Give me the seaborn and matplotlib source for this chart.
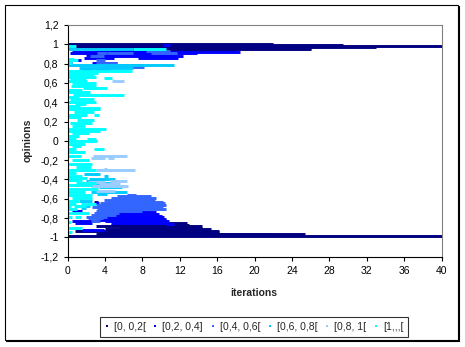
import matplotlib
matplotlib.use("Agg")
import matplotlib.pyplot as plt
from matplotlib.lines import Line2D
from matplotlib.patches import Rectangle
from matplotlib.ticker import FuncFormatter, MultipleLocator
import pandas as pd
import seaborn as sns

band_labels = ["[0, 0,2[", "[0,2, 0,4]", "[0,4, 0,6[", "[0,6, 0,8[", "[0,8, 1[", "[1,,,["]
band_colors = ["#000080", "#0000FF", "#3366FF", "#00CCFF", "#99CCFF", "#00FFFF"]

x_ticks = list(range(0, 41, 4))

# Runs of constant opinion per uncertainty band: (opinion, first iteration, last iteration)
runs_00_02 = [
    (1.00, 0, 22.0), (0.99, 0, 29.5), (0.98, 0, 40.0), (0.97, 0, 33.0),
    (0.96, 0.5, 26.0), (0.95, 3.0, 26.0), (0.94, 4.5, 18.0), (0.93, 5.0, 12.5),
    (0.915, 4.5, 8.3),
    (-0.635, 2.8, 3.3), (-0.855, 5.0, 12.8), (-0.87, 4.6, 13.0), (-0.885, 3.0, 14.4),
    (-0.90, 5.5, 14.4), (-0.917, 4.0, 15.4), (-0.93, 0.8, 16.2), (-0.945, 3.5, 16.2),
    (-0.96, 3.0, 21.9), (-0.97, 4.0, 25.4), (-0.985, 0, 40.0),
]
runs_02_04 = [
    (0.995, 10.2, 11.0), (0.92, 0.5, 18.5), (0.905, 0.3, 13.8), (0.89, 2.0, 11.6),
    (0.875, 2.3, 12.3), (0.86, 1.8, 5.0), (0.86, 7.5, 11.8), (0.84, 1.0, 1.4),
    (0.81, 2.6, 5.3), (0.805, 0.2, 0.5), (0.735, 1.6, 2.6), (0.735, 3.0, 4.4),
    (-0.645, 2.9, 3.4), (-0.73, 0.5, 1.5), (-0.735, 7.5, 9.5), (-0.745, 5.5, 8.8),
    (-0.76, 5.0, 9.8), (-0.775, 4.2, 10.1), (-0.79, 3.5, 10.3), (-0.805, 3.8, 10.5),
    (-0.82, 3.0, 10.5), (-0.83, 0.5, 3.0), (-0.835, 4.0, 10.9), (-0.85, 4.6, 10.9),
    (-0.85, 0.8, 2.6), (-0.865, 10.5, 11.4), (-0.92, 1.5, 3.9),
]
runs_04_06 = [
    (0.93, 8.4, 11.0), (0.91, 8.9, 11.7), (0.91, 4.2, 7.0), (0.905, 3.2, 4.2),
    (0.875, 2.4, 3.9), (0.84, 3.0, 4.0), (0.805, 3.0, 5.3), (0.785, 4.1, 8.2),
    (0.765, 3.9, 8.2), (0.75, 3.5, 4.7),
    (-0.565, 6.4, 7.3), (-0.575, 5.3, 8.9), (-0.595, 4.6, 9.5), (-0.61, 3.9, 9.4),
    (-0.63, 4.3, 10.2), (-0.645, 3.5, 10.4), (-0.665, 3.0, 10.5), (-0.685, 2.6, 10.2),
    (-0.705, 3.2, 10.5), (-0.725, 3.0, 8.0), (-0.745, 2.8, 5.5), (-0.765, 2.5, 5.2),
    (-0.785, 2.0, 4.2), (-0.80, 2.2, 3.8), (-0.83, 2.5, 3.5),
]
runs_06_08 = [
    (0.955, 0, 7.0), (0.79, 0, 11.4), (0.75, 1.2, 7.0),
    (-0.34, 1.8, 3.5), (-0.36, 3.9, 4.3), (-0.395, 2.3, 5.1), (-0.42, 2.0, 2.6),
    (-0.44, 2.5, 4.6), (-0.48, 3.4, 5.8), (-0.53, 2.5, 6.4), (-0.55, 3.2, 4.2),
    (-0.62, 1.2, 2.6), (-0.67, 1.0, 2.4), (-0.70, 1.4, 2.0),
]
runs_08_10 = [
    (0.625, 4.8, 6.0), (0.55, 2.3, 2.6),
    (-0.16, 2.7, 6.4), (-0.18, 2.5, 4.0), (-0.18, 4.3, 5.0), (-0.29, 3.9, 4.2),
    (-0.305, 3.0, 7.2), (-0.415, 4.5, 6.4), (-0.43, 2.2, 4.0), (-0.45, 3.4, 5.6),
    (-0.47, 2.5, 6.5), (-0.52, 3.0, 5.1),
]
runs_10_up = [
    (0.98, 0, 0.9), (0.955, 7.0, 10.5), (0.85, 0, 0.7), (0.84, 0, 1.1), (0.81, 0, 0.5),
    (0.725, 0, 6.9), (0.705, 0, 3.3), (0.685, 0, 2.8), (0.665, 0, 3.1), (0.655, 3.9, 4.8),
    (0.64, 0.3, 2.0), (0.62, 0, 2.1), (0.60, 0.5, 3.0), (0.585, 1.2, 2.5), (0.565, 0.4, 3.1),
    (0.55, 1.7, 4.2), (0.53, 0, 1.5), (0.51, 0, 2.4), (0.49, 0.8, 2.3), (0.47, 0.6, 6.0),
    (0.45, 0, 1.2), (0.43, 0.3, 2.8), (0.405, 0, 3.1), (0.385, 0.8, 2.0), (0.365, 0, 1.3),
    (0.345, 0, 3.5), (0.326, 0, 3.5), (0.298, 0.7, 2.8), (0.271, 0, 2.1), (0.271, 2.8, 3.4),
    (0.243, 0, 1.4), (0.212, 1.0, 2.8), (0.181, 0.3, 2.6), (0.15, 0.5, 1.9), (0.122, 0, 4.1),
    (0.102, 0, 3.5), (0.077, 0.5, 2.3), (0.053, 0, 1.2), (0.022, 0, 0.9), (0.022, 2.1, 3.0),
    (-0.005, 0, 3.2), (-0.029, 0, 1.9), (-0.057, 0.5, 1.4), (-0.081, 0, 0.9), (-0.081, 2.8, 3.9),
    (-0.115, 0, 1.9), (-0.157, 0, 1.4), (-0.199, 0.5, 2.3), (-0.24, 0, 2.6), (-0.271, 0.9, 2.5),
    (-0.302, 0, 3.0), (-0.333, 0, 0.9), (-0.36, 0.1, 1.6), (-0.38, 0, 2.1), (-0.41, 0, 1.6),
    (-0.437, 0.9, 3.0), (-0.462, 0, 2.6), (-0.496, 0, 3.3), (-0.53, 0, 1.9), (-0.565, 0, 2.6),
    (-0.593, 0.5, 2.6), (-0.624, 0, 1.2), (-0.651, 0, 0.9), (-0.651, 1.4, 3.0), (-0.679, 0, 0.4),
    (-0.679, 0.7, 2.0), (-0.71, 0, 1.0), (-0.748, 0, 2.3), (-0.79, 0, 0.5), (-0.79, 0.8, 1.4),
    (-0.838, 0, 0.4), (-0.90, 0, 1.6), (-0.94, 0, 0.5),
]
band_runs = [runs_00_02, runs_02_04, runs_04_06, runs_06_08, runs_08_10, runs_10_up]

# Long-form table: each run becomes a two-point horizontal line
rows = []
run_id = 0
for label, runs in zip(band_labels, band_runs):
    for opinion, first, last in runs:
        rows.append({"band": label, "run": run_id, "iteration": first, "opinion": opinion})
        rows.append({"band": label, "run": run_id, "iteration": last, "opinion": opinion})
        run_id += 1
df = pd.DataFrame(rows)

sns.set_style("white")
plt.rcParams["font.family"] = ["Liberation Sans", "DejaVu Sans"]

W, H = 465, 347
fig = plt.figure(figsize=(W / 100, H / 100), dpi=100)
fig.patch.set_facecolor("white")

left, right, top, bottom = 67.5, 441.5, 25.0, 256.7
ax = fig.add_axes([left / W, 1 - bottom / H, (right - left) / W, (bottom - top) / H])

sns.lineplot(
    data=df, x="iteration", y="opinion", hue="band", hue_order=band_labels,
    palette=dict(zip(band_labels, band_colors)), units="run", estimator=None,
    sort=False, linewidth=2.1, solid_capstyle="butt", legend=False, ax=ax,
)

ax.set_xlim(0, 40)
ax.set_ylim(-1.2, 1.2)
ax.set_xticks(x_ticks)
ax.yaxis.set_major_locator(MultipleLocator(0.2))


def comma_fmt(v, pos):
    v = round(v, 1)
    if v == 0:
        return "0"
    s = f"{v:.1f}".rstrip("0").rstrip(".")
    return s.replace(".", ",")


ax.yaxis.set_major_formatter(FuncFormatter(comma_fmt))
ax.xaxis.set_major_formatter(FuncFormatter(lambda v, p: f"{int(round(v))}"))
ax.tick_params(axis="both", direction="out", length=3, width=0.8, color="black",
               labelsize=7.5, labelcolor="black")
ax.tick_params(axis="x", pad=4)
ax.tick_params(axis="y", pad=3.5)
ax.xaxis.set_ticks_position("bottom")
ax.yaxis.set_ticks_position("left")

for side in ("left", "bottom"):
    ax.spines[side].set_color("black")
    ax.spines[side].set_linewidth(0.8)
for side in ("top", "right"):
    ax.spines[side].set_color("#808080")
    ax.spines[side].set_linewidth(0.8)
    ax.spines[side].set_visible(True)
ax.grid(False)
ax.set_xlabel("")
ax.set_ylabel("")

fig.text(254 / W, 1 - 293 / H, "iterations", ha="center", va="center",
         fontsize=7.5, fontweight="bold")
fig.text(28 / W, 1 - 140 / H, "opinions", ha="center", va="center",
         rotation=90, fontsize=7.5, fontweight="bold")

handles = [Line2D([], [], marker="s", markersize=1.6, linestyle="none",
                  color=c, markeredgewidth=0) for c in band_colors]
leg = fig.legend(handles, band_labels, loc="center", bbox_to_anchor=(254 / W, 1 - 327 / H),
                 ncol=6, frameon=True, fancybox=False, fontsize=7.5, handlelength=0.4,
                 handletextpad=0.45, columnspacing=0.75, borderpad=0.45, borderaxespad=0)
leg.get_frame().set_edgecolor("black")
leg.get_frame().set_linewidth(0.8)

# chart frame with a slight shadow on the lower and right edges
fig.patches.append(Rectangle((5 / W, 1 - 340 / H), 453 / W, 335 / H, transform=fig.transFigure,
                             fill=False, edgecolor="black", linewidth=0.8))
fig.lines.append(Line2D([459 / W, 459 / W], [1 - 341 / H, 1 - 6 / H], transform=fig.transFigure,
                        color="black", linewidth=0.8))
fig.lines.append(Line2D([6 / W, 459 / W], [1 - 341 / H, 1 - 341 / H], transform=fig.transFigure,
                        color="black", linewidth=0.8))

fig.savefig("out.png", dpi=100)
